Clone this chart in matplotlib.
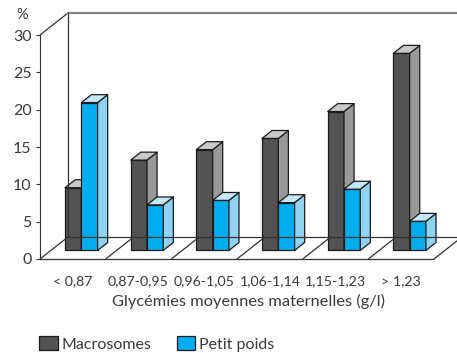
import matplotlib.pyplot as plt
from matplotlib.patches import Polygon, Patch

# Glycémie classes and the share (%) of each birth-weight group
categories = ["< 0,87", "0,87-0,95", "0,96-1,05", "1,06-1,14", "1,15-1,23", "> 1,23"]
macrosomes = [8.4, 12.1, 13.5, 15.0, 18.6, 26.4]
petit_poids = [19.8, 6.1, 6.7, 6.4, 8.2, 3.9]
yticks = [0, 5, 10, 15, 20, 25, 30]

plt.rcParams["font.family"] = ["Lato", "DejaVu Sans"]
txt = "#3a3a3a"

fig = plt.figure(figsize=(4.57, 3.53), dpi=100)
ax = fig.add_axes([40 / 457, (353 - 259) / 353, 394 / 457, 224 / 353])
ax.set_xlim(0, len(categories))
ax.set_ylim(0, 30)

# depth vector of the fake 3D box (in data units)
DX, DY = 28 / 65.7, 22 / 7.467
F0, FD = 0.39, 0.36        # bar front plane and bar depth, as fraction of box depth
BAR_W, BAR_X0 = 0.248, 0.215

for s in ["top", "right", "bottom"]:
    ax.spines[s].set_visible(False)
ax.spines["left"].set_color("#333333")
ax.set_xticks([])
ax.set_yticks(yticks)
ax.tick_params(axis="y", length=3, pad=3, labelsize=11.5, colors="#333333", labelcolor=txt)

n = len(categories)
line = dict(color="#333333", lw=0.9, clip_on=False, solid_capstyle="butt")

# back wall and floor
ax.plot([0, DX], [30, 30 + DY], **line)
ax.plot([DX, n + DX], [30 + DY, 30 + DY], color="#808080", lw=1.6, clip_on=False)
ax.plot([DX, DX], [DY, 30 + DY], **line)
ax.plot([0, n], [0, 0], **line)
ax.plot([DX, n + DX], [DY, DY], **line)
for k in range(n + 1):
    ax.plot([k, k + DX], [0, DY], **line)


def draw_bar(x0, h, front, side, top):
    ox, oy = F0 * DX, F0 * DY
    bx, by = FD * DX, FD * DY
    x1 = x0 + BAR_W
    kw = dict(ec="#1a1a1a", lw=0.9, clip_on=False, joinstyle="round")
    ax.add_patch(Polygon([(x0 + ox, oy), (x1 + ox, oy), (x1 + ox, h + oy), (x0 + ox, h + oy)],
                         fc=front, **kw))
    ax.add_patch(Polygon([(x1 + ox, oy), (x1 + ox + bx, oy + by), (x1 + ox + bx, h + oy + by),
                          (x1 + ox, h + oy)], fc=side, **kw))
    ax.add_patch(Polygon([(x0 + ox, h + oy), (x1 + ox, h + oy), (x1 + ox + bx, h + oy + by),
                          (x0 + ox + bx, h + oy + by)], fc=top, **kw))


grey = ("#535353", "#999999", "#c9c9c9")
blue = ("#00aeef", "#8fd2f4", "#c4e7fa")
for i in range(n):
    draw_bar(i + BAR_X0, macrosomes[i], *grey)
    draw_bar(i + BAR_X0 + BAR_W, petit_poids[i], *blue)

for i, lab in enumerate(categories):
    ax.text(i + 0.5, -3.0, lab, ha="center", va="center", fontsize=10.2, color=txt, clip_on=False)

fig.text(22 / 457, 1 - 15 / 353, "%", ha="center", va="center", fontsize=10.5, color=txt)
fig.text(248 / 457, 1 - 301 / 353, "Glycémies moyennes maternelles (g/l)",
         ha="center", va="center", fontsize=11.8, color=txt)

handles = [Patch(fc=grey[0], ec="#1a1a1a", lw=0.9), Patch(fc=blue[0], ec="#1a1a1a", lw=0.9)]
fig.legend(handles, ["Macrosomes", "Petit poids"], ncol=2, frameon=False,
           loc="center left", bbox_to_anchor=(28 / 457, 1 - 344 / 353),
           borderpad=0.2, handlelength=1.15, handleheight=0.95, handletextpad=0.25,
           columnspacing=1.6, fontsize=11.5, labelcolor=txt)

fig.savefig("out.png", dpi=100)
